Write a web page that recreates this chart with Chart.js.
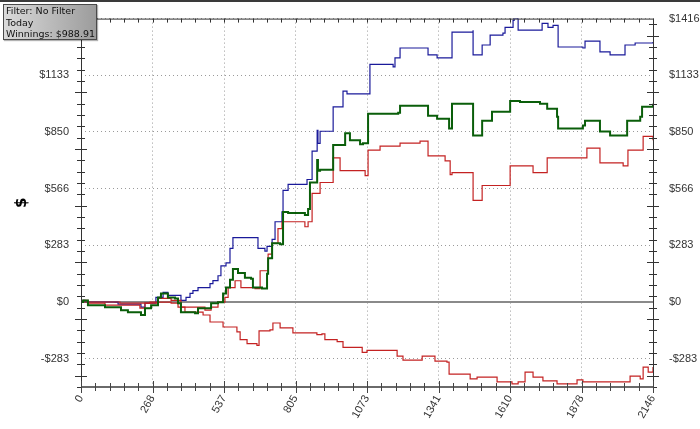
<!DOCTYPE html>
<html>
<head>
<meta charset="utf-8">
<script src="https://cdn.jsdelivr.net/npm/chart.js@4.4.1/dist/chart.umd.min.js"></script>
<style>
  body { margin: 0; background: #fff; }
  #wrap { position: relative; width: 700px; height: 429px; overflow: hidden; }
  #topbar { position: absolute; left: 0; top: 0; width: 700px; height: 2px; background: #3a3a3a; z-index: 3; }
  #info {
    position: absolute; left: 3px; top: 4px; width: 90px; height: 34px;
    padding-left: 2px; border: 1px solid #4a4a4a;
    background: linear-gradient(to right, #dadada, #9c9c9c);
    font: 9.5px "DejaVu Sans", Verdana, sans-serif; line-height: 11.5px; color: #111;
    z-index: 2; box-shadow: 1px 1px 1px rgba(0,0,0,0.3);
  }
</style>
</head>
<body>
<div id="wrap">
  <div id="topbar"></div>
  <div id="info">Filter: No Filter<br>Today<br>Winnings: $988.91</div>
  <canvas id="chart" width="700" height="429"></canvas>
</div>
<script>
// Valeurs (numéro de partie, $)
const blueX = [0, 8, 15, 128, 139, 225, 240, 278, 281, 308, 326, 364, 375, 394, 409, 420, 439, 465, 484, 495, 514, 525, 544, 559, 570, 653, 664, 690, 698, 717, 728, 754, 758, 777, 840, 848, 867, 886, 889, 897, 942, 946, 983, 998, 1073, 1084, 1133, 1171, 1178, 1197, 1298, 1302, 1336, 1385, 1392, 1471, 1471, 1505, 1535, 1583, 1591, 1621, 1625, 1640, 1722, 1730, 1752, 1771, 1790, 1883, 1891, 1936, 1947, 1985, 2034, 2041, 2079, 2146];
const blueY = [0, 8, 0, -1, -11, -26, -6, -6, 23, 48, 33, 33, 8, 23, 43, 57, 72, 72, 92, 107, 131, 180, 195, 268, 322, 322, 268, 254, 278, 313, 401, 450, 558, 588, 588, 612, 754, 858, 793, 853, 853, 975, 1054, 1040, 1040, 1187, 1187, 1175, 1220, 1269, 1269, 1235, 1220, 1220, 1348, 1358, 1235, 1284, 1333, 1343, 1372, 1407, 1417, 1358, 1358, 1392, 1372, 1382, 1274, 1269, 1303, 1303, 1250, 1235, 1235, 1284, 1294, 1299];

const greenX = [0, 8, 26, 64, 90, 128, 150, 176, 214, 225, 240, 263, 289, 300, 326, 353, 364, 375, 428, 439, 465, 488, 514, 533, 544, 559, 570, 589, 615, 638, 645, 679, 698, 702, 717, 739, 747, 758, 777, 840, 852, 859, 886, 889, 897, 942, 946, 991, 1009, 1047, 1058, 1077, 1092, 1190, 1197, 1298, 1302, 1336, 1377, 1381, 1392, 1460, 1471, 1505, 1542, 1598, 1610, 1647, 1722, 1749, 1786, 1790, 1883, 1891, 1936, 1947, 1985, 2034, 2049, 2098, 2105, 2146];
const greenY = [0, 8, -16, -16, -26, -26, -41, -51, -51, -65, -31, -16, 23, 43, 23, 18, -6, -51, -56, -31, -31, -6, -1, 43, 72, 111, 165, 145, 121, 116, 72, 67, 141, 219, 293, 293, 288, 450, 445, 435, 464, 597, 710, 656, 661, 661, 784, 843, 808, 788, 793, 941, 941, 945, 980, 980, 931, 916, 916, 867, 990, 990, 832, 906, 950, 950, 1004, 999, 990, 965, 926, 867, 882, 906, 906, 852, 832, 832, 906, 926, 975, 990];

const redHighX = [0, 8, 26, 64, 90, 221, 240, 278, 289, 338, 364, 375, 465, 488, 514, 540, 552, 578, 600, 653, 664, 672, 698, 702, 717, 739, 754, 777, 840, 852, 867, 897, 942, 946, 972, 1047, 1066, 1077, 1122, 1197, 1272, 1298, 1302, 1336, 1366, 1385, 1392, 1467, 1471, 1505, 1572, 1610, 1647, 1696, 1749, 1883, 1898, 1936, 1947, 2034, 2052, 2109, 2146];
const redHighY = [0, 8, -6, -6, -16, -31, -6, -6, 18, 8, 8, -26, -41, -26, -1, 23, 72, 106, 72, 67, 67, 156, 156, 239, 293, 367, 401, 401, 376, 401, 543, 597, 597, 720, 656, 656, 631, 759, 779, 794, 804, 804, 730, 730, 705, 636, 646, 646, 508, 582, 582, 680, 680, 646, 720, 720, 769, 769, 695, 680, 759, 828, 808];

const redLowX = [0, 146, 259, 289, 338, 364, 390, 458, 484, 533, 585, 597, 623, 660, 668, 709, 720, 747, 784, 795, 885, 904, 915, 961, 983, 1047, 1055, 1073, 1159, 1186, 1208, 1272, 1280, 1321, 1328, 1373, 1381, 1460, 1486, 1561, 1610, 1617, 1640, 1666, 1696, 1733, 1786, 1808, 1861, 1883, 2034, 2060, 2098, 2109, 2128, 2146];
const redLowY = [0, -6, -1, -1, -6, -26, -51, -65, -100, -125, -149, -188, -208, -217, -144, -139, -105, -129, -129, -154, -163, -159, -188, -198, -227, -227, -252, -242, -242, -271, -291, -291, -271, -271, -296, -301, -360, -384, -375, -399, -399, -409, -399, -350, -375, -394, -409, -409, -389, -399, -399, -370, -384, -325, -350, -325];

// Graduations
const xTicks = [0, 268.25, 536.5, 804.75, 1073, 1341.25, 1609.5, 1877.75, 2146];
const yTicks = [-283.2, 0, 283.2, 566.4, 849.6, 1132.8, 1416];
const xMinorStep = 53.65;
const yMinorStep = 56.64;
const yMin = -424.8;
const yMax = 1416;

const toPoints = (xs, ys) => xs.map((x, i) => ({ x: x, y: ys[i] }));

const fontTicks = { family: 'Liberation Sans, Arial, sans-serif', size: 11 };

// Axes, petites graduations et ligne du zéro
const framePlugin = {
  id: 'frame',
  beforeDatasetsDraw(chart) {
    const { ctx, chartArea } = chart;
    const y0 = chart.scales.y.getPixelForValue(0);
    ctx.save();
    ctx.strokeStyle = '#8a8a8a';
    ctx.lineWidth = 2;
    ctx.beginPath();
    ctx.moveTo(chartArea.left, y0);
    ctx.lineTo(chartArea.right, y0);
    ctx.stroke();
    ctx.restore();
  },
  afterDatasetsDraw(chart) {
    const { ctx, chartArea } = chart;
    const xs = chart.scales.x, ys = chart.scales.y;
    const L = chartArea.left, R = chartArea.right, T = chartArea.top, B = chartArea.bottom;
    ctx.save();
    ctx.lineWidth = 1;
    ctx.strokeStyle = '#333';
    ctx.beginPath();
    ctx.moveTo(L + 0.5, T); ctx.lineTo(L + 0.5, B);
    ctx.moveTo(R + 0.5, T); ctx.lineTo(R + 0.5, B);
    ctx.moveTo(L, T + 0.5); ctx.lineTo(R, T + 0.5);
    // graduations Y (gauche et droite)
    for (let k = 0; yMin + k * yMinorStep <= yMax + 0.01; k++) {
      const py = Math.round(ys.getPixelForValue(yMin + k * yMinorStep)) + 0.5;
      const major = (k - 1) % 5 === 0;
      const len = major ? 6 : 4;
      ctx.moveTo(L - len, py); ctx.lineTo(L + len, py);
      ctx.moveTo(R - len, py); ctx.lineTo(R + len, py);
    }
    // graduations X en haut
    for (let k = 0; k * xMinorStep <= 2146.01; k++) {
      const px = Math.round(xs.getPixelForValue(k * xMinorStep)) + 0.5;
      ctx.moveTo(px, T); ctx.lineTo(px, T + 4);
    }
    ctx.stroke();
    // axe du bas
    ctx.strokeStyle = '#6a6a6a';
    ctx.lineWidth = 2;
    ctx.beginPath();
    ctx.moveTo(L, B); ctx.lineTo(R, B);
    ctx.stroke();
    ctx.lineWidth = 1;
    ctx.strokeStyle = '#444';
    ctx.beginPath();
    for (let k = 0; k * xMinorStep <= 2146.01; k++) {
      const px = Math.round(xs.getPixelForValue(k * xMinorStep)) + 0.5;
      const len = k % 5 === 0 ? 6 : 4;
      ctx.moveTo(px, B - len); ctx.lineTo(px, B + len);
    }
    ctx.stroke();
    ctx.restore();
  }
};

const gridOpts = {
  drawTicks: false,
  color: ctx => (ctx.tick && ctx.tick.value === 0) ? 'rgba(0,0,0,0)' : '#9a9a9a',
  lineWidth: 1
};

new Chart(document.getElementById('chart'), {
  type: 'line',
  data: {
    datasets: [
      { label: 'Winnings', data: toPoints(greenX, greenY), borderColor: '#0a5e0a', borderWidth: 2, order: 0 },
      { label: 'Haut', data: toPoints(redHighX, redHighY), borderColor: '#c42222', borderWidth: 1.2, order: 1 },
      { label: 'Bas', data: toPoints(redLowX, redLowY), borderColor: '#c42222', borderWidth: 1.2, order: 2 },
      { label: 'Max', data: toPoints(blueX, blueY), borderColor: '#1a1a9a', borderWidth: 1.2, order: 3 }
    ]
  },
  options: {
    responsive: false,
    animation: false,
    events: [],
    layout: { padding: { top: 13, left: 0, right: 0, bottom: 0 } },
    elements: { point: { radius: 0 }, line: { tension: 0, stepped: true } },
    plugins: { legend: { display: false }, tooltip: { enabled: false } },
    scales: {
      x: {
        type: 'linear', min: 0, max: 2146,
        afterBuildTicks: s => { s.ticks = xTicks.map(v => ({ value: v })); },
        afterFit: s => { s.height = 42; },
        ticks: {
          callback: v => Math.round(v),
          minRotation: 60, maxRotation: 60, padding: 6,
          color: '#333', font: fontTicks
        },
        grid: gridOpts,
        border: { display: false, dash: [1, 3] }
      },
      y: {
        type: 'linear', position: 'left', min: yMin, max: yMax,
        afterBuildTicks: s => { s.ticks = yTicks.map(v => ({ value: v })); },
        afterFit: s => { s.width = 81; },
        ticks: {
          callback: v => (v < 0 ? '-$' : '$') + Math.round(Math.abs(v)),
          padding: 12, color: '#333', font: fontTicks
        },
        title: { display: true, text: '$', color: '#000', font: { family: 'DejaVu Sans', size: 15, weight: 'bold' }, padding: { top: 13, bottom: 0 } },
        grid: gridOpts,
        border: { display: false, dash: [1, 3] }
      },
      y2: {
        type: 'linear', position: 'right', min: yMin, max: yMax,
        afterBuildTicks: s => { s.ticks = yTicks.map(v => ({ value: v })); },
        afterFit: s => { s.width = 47; },
        ticks: {
          callback: v => (v < 0 ? '-$' : '$') + Math.round(Math.abs(v)),
          padding: 8, color: '#333', font: fontTicks
        },
        grid: { display: false },
        border: { display: false }
      }
    }
  },
  plugins: [framePlugin]
});
</script>
</body>
</html>
